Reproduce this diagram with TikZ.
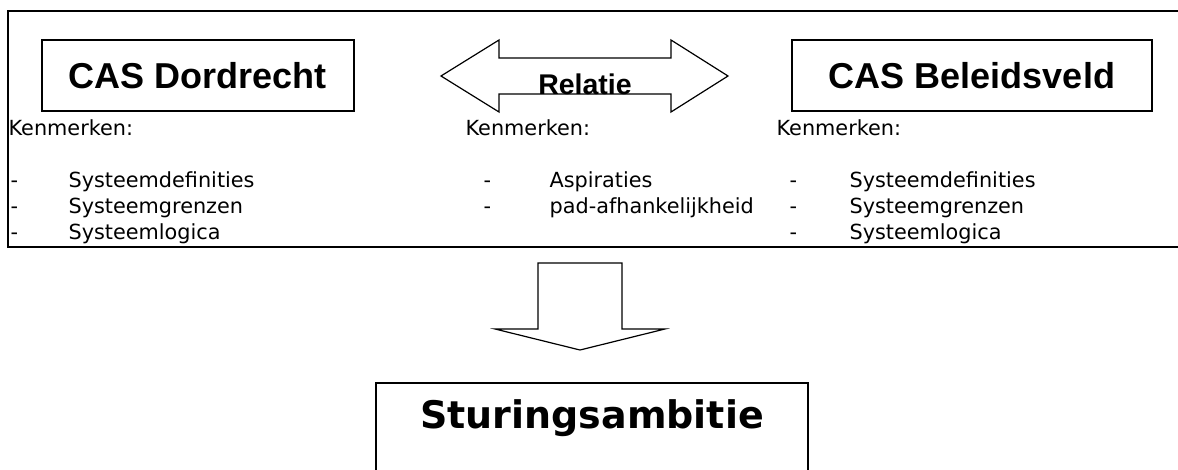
\documentclass[tikz,border=0pt]{standalone}
\usepackage{fontspec}
\setmainfont{DejaVu Sans}
\newfontfamily\arialfont{Liberation Sans}
\newcommand{\itemdash}[1]{\makebox[#1][l]{-}}
\begin{document}
\begin{tikzpicture}[x=1pt,y=-1pt,
  line width=1.2pt,
  titlebox/.style={draw, line width=1.5pt, minimum height=71pt, inner sep=0pt},
  titletext/.style={font=\arialfont\bfseries\fontsize{36}{40}\selectfont},
  body/.style={anchor=base west, inner sep=0pt, font=\fontsize{20.8}{26}\selectfont},
  itemlist/.style={body, align=left},
  outline/.style={draw, line width=1.2pt, fill=white}]
\useasboundingbox (0,0) rectangle (1178,470);
% outer frame (open on the right)
\draw[line width=2pt] (1178,11) -- (8,11) -- (8,247) -- (1178,247);
% title boxes
\node[titlebox, titletext, minimum width=312pt] (dord) at (198,75.5) {CAS Dordrecht};
\node[titlebox, titletext, minimum width=360pt] (bel) at (972,75.5) {CAS Beleidsveld};
% double arrow
\draw[outline] (441,76) -- (499,40) -- (499,58) -- (671,58) -- (671,40) -- (728,76)
  -- (671,112) -- (671,94) -- (499,94) -- (499,112) -- cycle;
\node[font=\arialfont\bfseries\fontsize{28.5}{30}\selectfont, inner sep=0pt] (rel) at (585,84) {Relatie};
% left column (anchored at the baseline of the last line)
\node[body] (k1) at (8,136) {Kenmerken:};
\node[itemlist] (l1) at (10,240) {\itemdash{58pt}Systeemdefinities\\\itemdash{58pt}Systeemgrenzen\\\itemdash{58pt}Systeemlogica};
% middle column
\node[body] (k2) at (465,136) {Kenmerken:};
\node[itemlist] (l2) at (483,214) {\itemdash{66pt}Aspiraties\\\itemdash{66pt}pad-afhankelijkheid};
% right column
\node[body] (k3) at (776,136) {Kenmerken:};
\node[itemlist] (l3) at (789,240) {\itemdash{60pt}Systeemdefinities\\\itemdash{60pt}Systeemgrenzen\\\itemdash{60pt}Systeemlogica};
% down arrow
\draw[outline] (538,263) -- (622,263) -- (622,329) -- (665,329) -- (580,350)
  -- (495,329) -- (538,329) -- cycle;
% Sturingsambitie box (open at the bottom)
\draw[line width=1.5pt] (376,472) -- (376,383) -- (808,383) -- (808,472);
\node[font=\bfseries\fontsize{38}{42}\selectfont, inner sep=0pt] (stur) at (592,418) {Sturingsambitie};
\end{tikzpicture}
\end{document}
